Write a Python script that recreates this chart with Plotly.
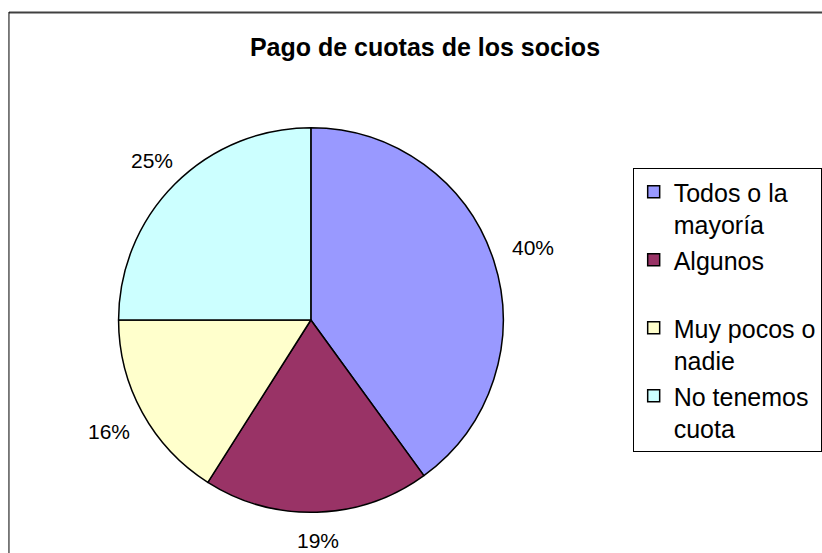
import math
import plotly.graph_objects as go

W, H = 822, 553

categories = ["Todos o la<br>mayoría", "Algunos<br>\u00a0", "Muy pocos o<br>nadie", "No tenemos<br>cuota"]
values = [40, 19, 16, 25]
colors = ["#9999FF", "#993366", "#FFFFCC", "#CCFFFF"]
title_text = "Pago de cuotas de los socios"

FONT = "Liberation Sans, Arial, sans-serif"

# pie geometry (pixels)
cx, cy, r = 312, 320, 193
label_gap = 18
label_half_w, label_half_h = 22, 10

fig = go.Figure(go.Pie(
    labels=categories,
    values=values,
    sort=False,
    direction="clockwise",
    rotation=0,
    marker=dict(colors=colors, line=dict(color="black", width=1.5)),
    textinfo="none",
    domain=dict(x=[(cx - r) / W, (cx + r) / W], y=[1 - (cy + r) / H, 1 - (cy - r) / H]),
    hoverinfo="label+percent",
))

# percentage labels placed radially outside each slice's mid-angle
total = sum(values)
annotations = []
cum = 0.0
for v in values:
    mid = (cum + v / 2) / total * 2 * math.pi  # clockwise from 12 o'clock
    cum += v
    sx, sy = math.sin(mid), -math.cos(mid)
    half = min(label_half_w / max(abs(sx), 1e-6), label_half_h / max(abs(sy), 1e-6))
    d = r + label_gap + half
    px = cx + d * sx
    py = cy + d * sy
    annotations.append(dict(
        x=px / W, y=1 - py / H, xref="paper", yref="paper",
        text=f"{round(100 * v / total)}%", showarrow=False,
        xanchor="center", yanchor="middle",
        font=dict(size=21, family=FONT, color="black"),
    ))

fig.update_layout(
    width=W, height=H,
    margin=dict(l=0, r=0, t=0, b=0),
    paper_bgcolor="white",
    plot_bgcolor="white",
    font=dict(family=FONT, color="black"),
    title=dict(
        text="<b>" + title_text + "</b>",
        x=425 / W, xanchor="center",
        y=1 - 47 / H, yanchor="middle",
        font=dict(size=25, family=FONT, color="black"),
    ),
    showlegend=True,
    legend=dict(
        x=635 / W, xanchor="left",
        y=1 - 168 / H, yanchor="top",
        bordercolor="black", borderwidth=1, bgcolor="white",
        font=dict(size=25, family=FONT, color="black"),
        valign="top",
        traceorder="normal",
    ),
    annotations=annotations,
    shapes=[
        dict(type="line", xref="paper", yref="paper",
             x0=9 / W, x1=1.02, y0=1 - 12.5 / H, y1=1 - 12.5 / H,
             line=dict(color="#404040", width=2)),
        dict(type="line", xref="paper", yref="paper",
             x0=9 / W, x1=9 / W, y0=-0.02, y1=1 - 12 / H,
             line=dict(color="black", width=1)),
    ],
)

fig.write_html("out.html", config={"displayModeBar": False},
               post_script="document.body.style.margin='0';")
